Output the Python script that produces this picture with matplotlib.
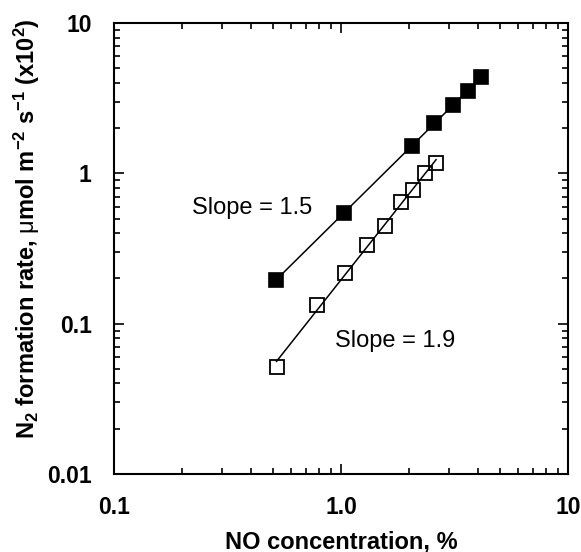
import matplotlib
matplotlib.use("Agg")
import matplotlib.pyplot as plt
import numpy as np
from matplotlib.ticker import FixedLocator, FixedFormatter, LogLocator, NullFormatter

plt.rcParams['font.family'] = ['Liberation Sans', 'DejaVu Sans']
plt.rcParams['mathtext.fontset'] = 'custom'
plt.rcParams['mathtext.rm'] = 'Liberation Sans'
plt.rcParams['mathtext.bf'] = 'Liberation Sans:bold'
plt.rcParams['mathtext.it'] = 'Liberation Sans:italic'
plt.rcParams['mathtext.default'] = 'bf'

# filled squares
no_filled = [0.517, 1.03, 2.05, 2.57, 3.11, 3.63, 4.14]
rate_filled = [0.195, 0.546, 1.52, 2.16, 2.85, 3.53, 4.38]

# open squares
no_open = [0.52, 0.783, 1.04, 1.30, 1.56, 1.84, 2.08, 2.34, 2.62]
rate_open = [0.0515, 0.133, 0.217, 0.334, 0.447, 0.645, 0.776, 1.01, 1.17]

x_ticks = [0.1, 1.0, 10]
x_labels = ['0.1', '1.0', '10']
y_ticks = [0.01, 0.1, 1, 10]
y_labels = ['0.01', '0.1', '1', '10']


def fit_line(x, y):
    lx, ly = np.log10(x), np.log10(y)
    k, b = np.polyfit(lx, ly, 1)
    xs = np.array([min(x), max(x)])
    return xs, 10 ** (k * np.log10(xs) + b)


fig = plt.figure(figsize=(5.81, 5.52), dpi=100)
ax = fig.add_axes([0.196, 0.1413, 0.782, 0.817])

xs, ys = fit_line(no_filled, rate_filled)
ax.plot(xs, ys, color='black', lw=1.1, zorder=2)
xs, ys = fit_line(no_open, rate_open)
ax.plot(xs, ys, color='black', lw=1.1, zorder=2)

ax.plot(no_filled, rate_filled, 's', ms=10.5, mfc='black', mec='black', mew=1.2, ls='none', zorder=3)
ax.plot(no_open, rate_open, 's', ms=10, mfc='none', mec='black', mew=1.3, ls='none', zorder=3)

ax.set_xscale('log')
ax.set_yscale('log')
ax.set_xlim(0.1, 10)
ax.set_ylim(0.01, 10)

ax.xaxis.set_major_locator(FixedLocator(x_ticks))
ax.xaxis.set_major_formatter(FixedFormatter(x_labels))
ax.yaxis.set_major_locator(FixedLocator(y_ticks))
ax.yaxis.set_major_formatter(FixedFormatter(y_labels))
ax.xaxis.set_minor_locator(LogLocator(base=10, subs=np.arange(2, 10)))
ax.yaxis.set_minor_locator(LogLocator(base=10, subs=np.arange(2, 10)))
ax.xaxis.set_minor_formatter(NullFormatter())
ax.yaxis.set_minor_formatter(NullFormatter())

ax.tick_params(which='both', direction='in', top=True, right=True, width=1.2)
ax.tick_params(which='major', length=7)
ax.tick_params(which='minor', length=4)
ax.tick_params(axis='x', which='major', pad=16, labelsize=16.5)
ax.tick_params(axis='y', which='major', pad=16, labelsize=16.5)
for lab in ax.get_xticklabels() + ax.get_yticklabels():
    lab.set_fontweight('bold')

for sp in ax.spines.values():
    sp.set_linewidth(1.5)

ax.text(0.221, 0.589, 'Slope = 1.5', fontsize=17, va='center', ha='left')
ax.text(0.941, 0.0767, 'Slope = 1.9', fontsize=17, va='center', ha='left')

ax.set_xlabel('NO concentration, %', fontsize=17, fontweight='bold')
ax.xaxis.set_label_coords(0.5, -0.125)
ax.set_ylabel(r'N$_2$ formation rate, $\mathrm{\mu}$mol m$^{-2}$ s$^{-1}$ (x10$^2$)',
              fontsize=17, fontweight='bold')
ax.yaxis.set_label_coords(-0.159, 0.545)

fig.savefig('out.png', dpi=100)
